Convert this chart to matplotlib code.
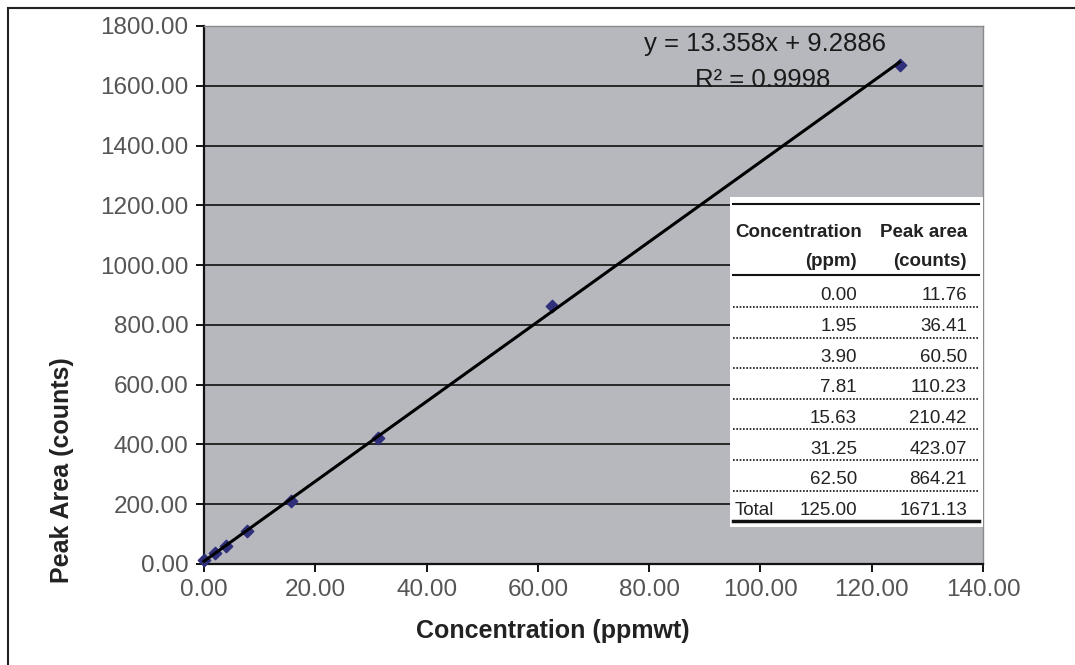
import numpy as np
import matplotlib
matplotlib.use('Agg')
from matplotlib import pyplot as plt
from matplotlib.patches import Rectangle
from matplotlib.lines import Line2D

plt.rcParams['font.family'] = ['Liberation Sans', 'DejaVu Sans']

# calibration data (table values)
conc = [0.00, 1.95, 3.90, 7.81, 15.63, 31.25, 62.50, 125.00]        # ppm
area = [11.76, 36.41, 60.50, 110.23, 210.42, 423.07, 864.21, 1671.13]  # counts
row_labels = ['', '', '', '', '', '', '', 'Total']

# linear trendline as reported
slope, intercept, r2 = 13.358, 9.2886, 0.9998

x_ticks = [0, 20, 40, 60, 80, 100, 120, 140]
y_ticks = [0, 200, 400, 600, 800, 1000, 1200, 1400, 1600, 1800]

W, H = 1075, 665
fig = plt.figure(figsize=(W / 100, H / 100), dpi=100)


def fx(px):
    return px / W


def fy(py):
    return 1 - py / H


# outer frame (only top and left edges visible in the scan)
fig.add_artist(Rectangle((fx(8), -0.1), 1.2, fy(8) + 0.1, transform=fig.transFigure,
                         fill=False, edgecolor='#222222', linewidth=1.5, clip_on=False))

ax = fig.add_axes([fx(204), fy(564), fx(983) - fx(204), fy(26) - fy(564)])
ax.set_facecolor('#b6b8bd')
ax.set_xlim(0, 140)
ax.set_ylim(0, 1800)
ax.set_xticks(x_ticks)
ax.set_yticks(y_ticks)
ax.set_xticklabels(['%.2f' % v for v in x_ticks])
ax.set_yticklabels(['%.2f' % v for v in y_ticks])
ax.tick_params(direction='out', length=6, width=1.3, labelsize=17.5, labelcolor='#555555', pad=5)

for y in y_ticks[1:-1]:
    ax.axhline(y, color='#1c1c1c', linewidth=1.3, zorder=1)

for s in ['left', 'bottom']:
    ax.spines[s].set_color('#111111')
    ax.spines[s].set_linewidth(1.6)
for s in ['top', 'right']:
    ax.spines[s].set_color('#8a8a8a')
    ax.spines[s].set_linewidth(1.0)

# data points and trendline
ax.scatter(conc, area, marker='D', s=40, color='#2f2f7c', zorder=3, clip_on=False)
xl = np.array([conc[0], conc[-1]])
ax.plot(xl, slope * xl + intercept, color='black', linewidth=2.2, zorder=4, clip_on=False)

fig.text(fx(765), fy(44), 'y = %.3fx + %.4f' % (slope, intercept), fontsize=18.5,
         ha='center', va='center', color='#1a1a1a')
fig.text(fx(763), fy(80), 'R² = %.4f' % r2, fontsize=18.5,
         ha='center', va='center', color='#1a1a1a')

fig.text(fx(62), fy(470), 'Peak Area (counts)', fontsize=18, fontweight='bold',
         rotation=90, ha='center', va='center', color='#222222')
fig.text(fx(553), fy(631), 'Concentration (ppmwt)', fontsize=18, fontweight='bold',
         ha='center', va='center', color='#222222')

# inset table
fig.add_artist(Rectangle((fx(730), fy(527)), fx(983) - fx(730), fy(197) - fy(527),
                         transform=fig.transFigure, facecolor='white', edgecolor='none', zorder=5))


def hline(py, lw=1.5, ls='-'):
    fig.add_artist(Line2D([fx(733), fx(979)], [fy(py), fy(py)], transform=fig.transFigure,
                          color='#111111', linewidth=lw, linestyle=ls, zorder=6))


hline(204)
hline(275)
hline(521, lw=2.5)

tkw = dict(fontsize=13.5, color='#222222', va='center', zorder=7)
fig.text(fx(735), fy(233), 'Concentration', fontweight='bold', ha='left', **tkw)
fig.text(fx(967), fy(233), 'Peak area', fontweight='bold', ha='right', **tkw)
fig.text(fx(857), fy(262), '(ppm)', fontweight='bold', ha='right', **tkw)
fig.text(fx(967), fy(262), '(counts)', fontweight='bold', ha='right', **tkw)

for i, (c, a, lab) in enumerate(zip(conc, area, row_labels)):
    ry = 296 + i * 30.6
    fig.text(fx(735), fy(ry), lab, ha='left', **tkw)
    fig.text(fx(857), fy(ry), '%.2f' % c, ha='right', **tkw)
    fig.text(fx(967), fy(ry), '%.2f' % a, ha='right', **tkw)
    if i < len(conc) - 1:
        hline(ry + 11, lw=1.2, ls=(0, (1, 1)))

fig.savefig('out.png', dpi=100)
